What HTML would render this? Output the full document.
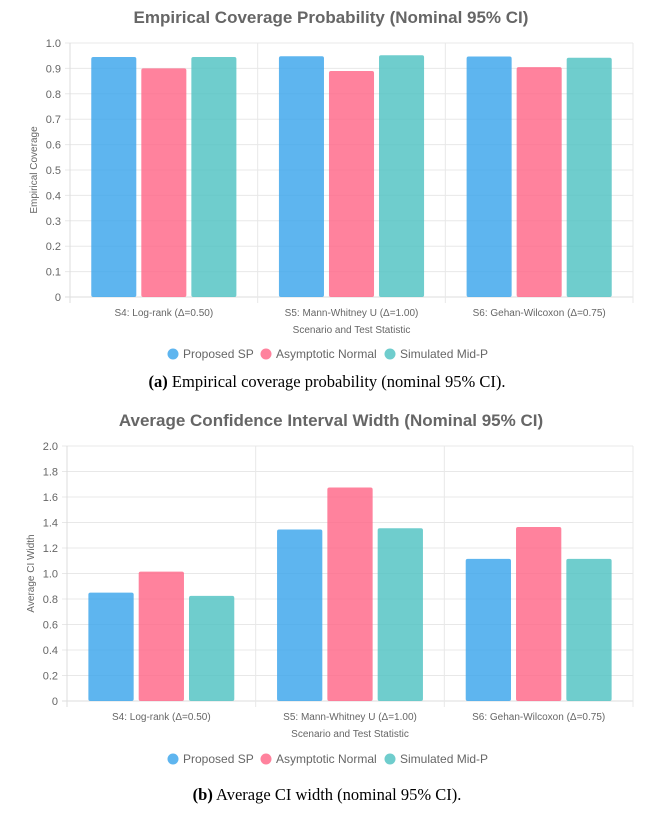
<!DOCTYPE html>
<html><head><meta charset="utf-8"><style>
body{margin:0;background:#fff;width:655px;height:813px;overflow:hidden}
svg{display:block;font-family:"Liberation Sans",sans-serif}
.cap{font-family:"Liberation Serif",serif}
</style></head><body>
<svg id="svg" width="655" height="813"></svg>
<script>
const categories=["S4: Log-rank (\u0394=0.50)","S5: Mann-Whitney U (\u0394=1.00)","S6: Gehan-Wilcoxon (\u0394=0.75)"];
const seriesNames=["Proposed SP","Asymptotic Normal","Simulated Mid-P"];
const coverageProposed=[0.945,0.948,0.947];
const coverageAsymptotic=[0.900,0.890,0.905];
const coverageMidP=[0.945,0.952,0.942];
const widthProposed=[0.85,1.345,1.115];
const widthAsymptotic=[1.015,1.675,1.365];
const widthMidP=[0.825,1.355,1.115];
const ticks1=[0,0.1,0.2,0.3,0.4,0.5,0.6,0.7,0.8,0.9,1.0];
const ticks2=[0,0.2,0.4,0.6,0.8,1.0,1.2,1.4,1.6,1.8,2.0];
const colors=["rgba(54,162,235,0.8)","rgba(255,99,132,0.8)","rgba(75,192,192,0.8)"];
const NS="http://www.w3.org/2000/svg";
const svg=document.getElementById('svg');
function mk(tag,attrs,parent,text){const e=document.createElementNS(NS,tag);for(const k in attrs)e.setAttribute(k,attrs[k]);if(text!==undefined)e.textContent=text;(parent||svg).appendChild(e);return e;}
function chart(o){
  const g=mk('g',{});
  
  
  const y=v=>o.y0-(v/o.max)*(o.y0-o.y1);
  const cw=(o.x1-o.x0)/categories.length;
  const t=mk('text',{x:331,y:o.titleY,'text-anchor':'middle','font-size':'17','font-weight':'bold',fill:'#666'},g,o.title);
  
  
  o.ticks.forEach(v=>{
    mk('line',{x1:o.x0-5,x2:o.x1,y1:y(v),y2:y(v),stroke:v===0?'#ddd':'#e8e8e8','stroke-width':1},g);
    const l=mk('text',{x:o.x0-9,y:y(v)+4,'text-anchor':'end','font-size':'11',fill:'#666'},g,o.fmt(v));
    
    
  });
  for(let i=0;i<=categories.length;i++){
    const x=o.x0+i*cw;
    mk('line',{x1:x,x2:x,y1:o.y1,y2:o.y0+6,stroke:i===0?'#ddd':'#e8e8e8','stroke-width':1},g);
  }
  const yt=mk('text',{transform:`translate(${o.yTitleX},${(o.y0+o.y1)/2}) rotate(-90)`,'text-anchor':'middle','font-size':'10',fill:'#666'},g,o.yTitle);
  
  
  categories.forEach((c,i)=>{
    const cx=o.x0+(i+0.5)*cw;
    const lab=mk('text',{x:cx,y:o.y0+19,'text-anchor':'middle','font-size':'10',fill:'#666'},g,c);
    
    
    const slot=cw*0.8/3;
    o.series.forEach((s,j)=>{
      const bw=slot*0.9;
      const bx=cx-cw*0.4+j*slot+(slot-bw)/2;
      const r=mk('rect',{x:bx,y:y(s[i]),width:bw,height:o.y0-y(s[i]),fill:colors[j],rx:2},g);
      
      
    });
  });
  const xt=mk('text',{x:(o.x0+o.x1)/2,y:o.y0+36,'text-anchor':'middle','font-size':'10',fill:'#666'},g,'Scenario and Test Statistic');
  
  
  const lx=[173,266,390];
  seriesNames.forEach((n,j)=>{
    mk('circle',{cx:lx[j],cy:o.legendY,r:5.5,fill:colors[j]},g);
    const lt=mk('text',{x:lx[j]+10,y:o.legendY+4,'font-size':'12',fill:'#666'},g,n);
    
    
  });
  const cap=mk('text',{x:327,y:o.capY,'text-anchor':'middle','font-size':'16.5',fill:'#000','class':'cap'},g);
  
  
  mk('tspan',{'font-weight':'bold'},cap,o.capB);
  mk('tspan',{},cap,o.capT);
}
chart({name:'coverage-chart',title:'Empirical Coverage Probability (Nominal 95% CI)',titleY:23,x0:70,x1:633,y0:297,y1:43,max:1,ticks:ticks1,fmt:v=>v===0?'0':v.toFixed(1),yTitle:'Empirical Coverage',yTitleX:37,series:[coverageProposed,coverageAsymptotic,coverageMidP],legendY:354,capY:387,capB:'(a)',capT:' Empirical coverage probability (nominal 95% CI).'});
chart({name:'width-chart',title:'Average Confidence Interval Width (Nominal 95% CI)',titleY:426,x0:67,x1:633,y0:701,y1:446,max:2,ticks:ticks2,fmt:v=>v===0?'0':v.toFixed(1),yTitle:'Average CI Width',yTitleX:34,series:[widthProposed,widthAsymptotic,widthMidP],legendY:759,capY:800,capB:'(b)',capT:' Average CI width (nominal 95% CI).'});
</script>
</body></html>
